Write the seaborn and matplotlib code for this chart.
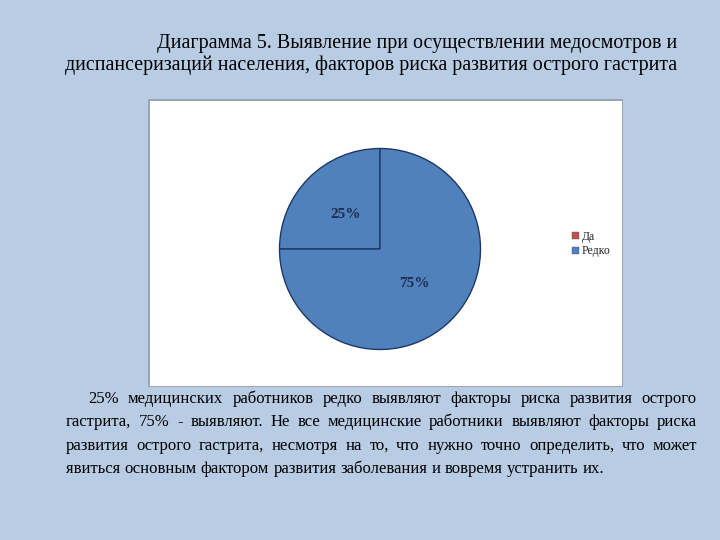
import matplotlib
matplotlib.use("Agg")
import matplotlib.pyplot as plt
import seaborn as sns
from matplotlib.patches import Rectangle, Patch

sns.set_theme(style="white")
plt.rcParams['font.family'] = ['Liberation Serif', 'DejaVu Serif']

# ---- data ----
categories = ["Да", "Редко"]
values = [25, 75]
legend_colors = ["#C0504D", "#4F81BD"]
slice_color = "#4F81BD"

title_lines = [
    "Диаграмма 5. Выявление при осуществлении медосмотров и",
    "диспансеризаций населения, факторов риска развития острого гастрита",
]
body_lines = [
    "25% медицинских работников редко выявляют факторы риска развития острого",
    "гастрита, 75% - выявляют. Не все медицинские работники выявляют факторы риска",
    "развития острого гастрита, несмотря на то, что нужно точно определить, что может",
    "явиться основным фактором развития заболевания и вовремя устранить их.",
]

W, H = 720, 540
fig = plt.figure(figsize=(7.2, 5.4), dpi=100)
fig.patch.set_facecolor("#B8CCE4")

def fx(x):
    return x / W

def fy(y):
    return 1 - y / H

# white chart area
fig.patches.append(Rectangle((fx(148), fy(387)), fx(623 - 148), (387 - 99) / H,
                             transform=fig.transFigure, facecolor="#9AA6B4",
                             edgecolor="none", zorder=-2))
fig.patches.append(Rectangle((fx(150), fy(386)), fx(622 - 150), (386 - 101) / H,
                             transform=fig.transFigure, facecolor="white",
                             edgecolor="none", zorder=-1))

# pie
cx, cy, r = 380, 249, 101
ax = fig.add_axes([fx(cx - r), fy(cy + r), fx(2 * r), 2 * r / H])
ax.set_zorder(2)
wedges, texts, autotexts = ax.pie(
    values, colors=[slice_color] * len(values), startangle=90, counterclock=True,
    autopct=lambda p: f"{p:.0f}%", pctdistance=0.48,
    wedgeprops=dict(edgecolor="#1F3864", linewidth=1.0),
    textprops=dict(color="#1F2D4F", fontsize=11, fontweight="bold"),
)
ax.set_xlim(-1.005, 1.005)
ax.set_ylim(-1.005, 1.005)
ax.set_aspect("equal")
ax.axis("off")

# legend
handles = [Patch(facecolor=c, edgecolor="#555555", linewidth=0.3) for c in legend_colors]
fig.legend(handles, categories, loc="center left",
           bbox_to_anchor=(fx(572), fy(244)), frameon=False, fontsize=8.5,
           handlelength=0.6, handleheight=0.6, handletextpad=0.2,
           labelspacing=0.25, borderpad=0, borderaxespad=0)

# title
tfs = 14.4
fig.text(fx(677), fy(48), title_lines[0], ha="right", va="baseline", fontsize=tfs, color="black")
fig.text(fx(677), fy(70), title_lines[1], ha="right", va="baseline", fontsize=tfs, color="black")

# body text, justified
fs = 12.0
fig.canvas.draw()
renderer = fig.canvas.get_renderer()
baselines = [403, 426, 450, 473]
left, right, indent = 66, 697, 88
for i, line in enumerate(body_lines):
    words = line.split(" ")
    x0 = indent if i == 0 else left
    texts_w = []
    widths = []
    for w in words:
        t = fig.text(0, 0.5, w, fontsize=fs, va="baseline", ha="left", color="black")
        widths.append(t.get_window_extent(renderer=renderer).width)
        texts_w.append(t)
    if i < len(body_lines) - 1:
        gap = (right - x0 - sum(widths)) / (len(words) - 1)
    else:
        sp = fig.text(0, 0.5, "a a", fontsize=fs)
        sp2 = fig.text(0, 0.5, "aa", fontsize=fs)
        gap = sp.get_window_extent(renderer=renderer).width - sp2.get_window_extent(renderer=renderer).width
        sp.remove(); sp2.remove()
    x = x0
    for t, wdt in zip(texts_w, widths):
        t.set_position((fx(x), fy(baselines[i])))
        x += wdt + gap

fig.savefig("out.png", dpi=100, facecolor=fig.get_facecolor())
